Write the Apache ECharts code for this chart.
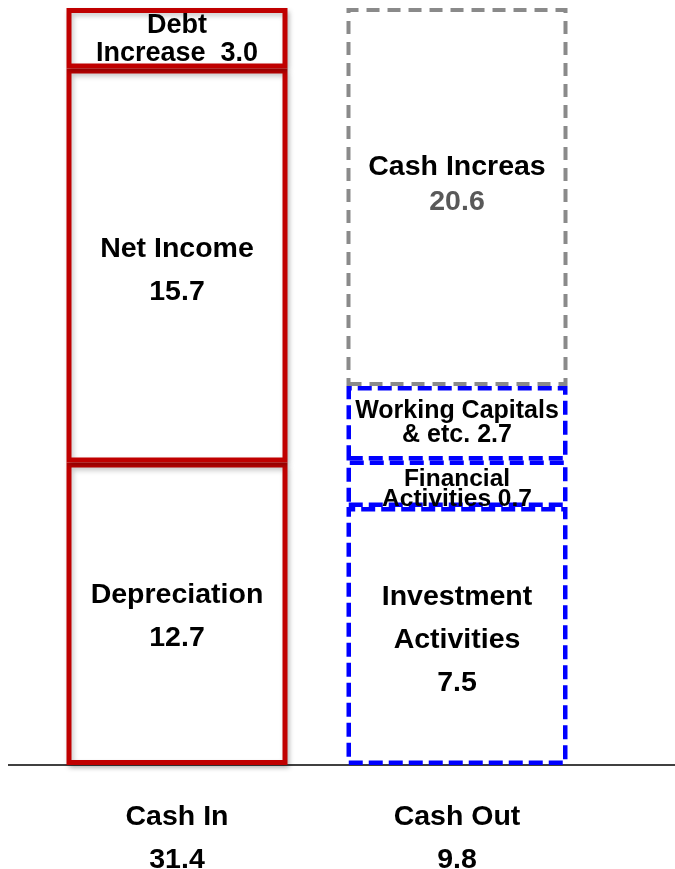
<!DOCTYPE html>
<html>
<head>
<meta charset="utf-8">
<script src="https://cdn.jsdelivr.net/npm/echarts@6/dist/echarts.min.js"></script>
<style>
  html, body { margin: 0; padding: 0; background: #fff; }
  #chart { width: 675px; height: 869px; }
</style>
</head>
<body>
<div id="chart"></div>
<script>
// categories and the totals printed under them
const categories = ["Cash In", "Cash Out"]
const categoryTotals = ["31.4", "9.8"]

// cash in blocks (bottom to top)
const cashInNames = ["Depreciation", "Net Income", "Debt\nIncrease "]
const cashInValues = ["12.7", "15.7", "3.0"]          // printed numbers
const cashInHeights = [12.55, 16.34, 2.51]             // heights as drawn

// cash out blocks (bottom to top)
const cashOutNames = ["Investment\nActivities", "Financial\nActivities", "Working Capitals\n& etc.", "Cash Increas"]
const cashOutValues = ["7.5", "0.7", "2.7", "20.6"]
const cashOutHeights = [10.7, 1.93, 3.09, 15.68]

const chart = echarts.init(document.getElementById("chart"))

const FONT = "Liberation Sans"
const RED = "#c00000"
const BLUE = "#0000ff"
const GRAY = "#8a8a8a"

// label text styles
const base = { fontFamily: FONT, fontWeight: "bold", color: "#000" }
const rich = {
  n: { ...base, fontSize: 28.5, lineHeight: 43 },
  d: { ...base, fontSize: 27, lineHeight: 28 },
  w: { ...base, fontSize: 25, lineHeight: 24 },
  f: { ...base, fontSize: 24.5, lineHeight: 20 },
  c: { ...base, fontSize: 28.5, lineHeight: 35 },
  g: { ...base, fontSize: 28.5, lineHeight: 35, color: "#595959" },
}

// build rich label: big labels put the number on its own line
const bigLabel = (name, value, s) =>
  name.split("\n").map((l) => `{${s}|${l}}`).join("\n") + `\n{${s}|${value}}`
const smallLabel = (name, value, s) => {
  const lines = name.split("\n")
  lines[lines.length - 1] = lines[lines.length - 1] + " " + value
  return lines.map((l) => `{${s}|${l}}`).join("\n")
}

const inLabels = [
  bigLabel(cashInNames[0], cashInValues[0], "n"),
  bigLabel(cashInNames[1], cashInValues[1], "n"),
  smallLabel(cashInNames[2], cashInValues[2], "d"),
]
const outLabels = [
  bigLabel(cashOutNames[0], cashOutValues[0], "n"),
  smallLabel(cashOutNames[1], cashOutValues[1], "f"),
  smallLabel(cashOutNames[2], cashOutValues[2], "w"),
  `{c|${cashOutNames[3]}}\n{g|${cashOutValues[3]}}`,
]
const inOffsets = [[0, 3], [0, 5], [0, 1]]
const outOffsets = [[0, 4], [0, 5], [0, 0], [0, -12]]

const series = []

cashInHeights.forEach((h, i) => {
  series.push({
    type: "bar",
    stack: "cash",
    barWidth: 221,
    z: 3,
    data: [h, "-"],
    itemStyle: {
      color: "#fff",
      borderColor: RED,
      borderWidth: 5,
      shadowBlur: 5,
      shadowColor: "rgba(0,0,0,0.22)",
      shadowOffsetX: 2,
      shadowOffsetY: 3,
    },
    label: {
      show: true,
      position: "inside",
      fontFamily: FONT,
      offset: inOffsets[i],
      formatter: inLabels[i],
      rich: rich,
    },
  })
})

cashOutHeights.forEach((h, i) => {
  const isCash = i === cashOutHeights.length - 1
  series.push({
    type: "bar",
    stack: "cash",
    barWidth: 221,
    z: isCash ? 2 : 3,
    data: ["-", h],
    itemStyle: {
      color: "transparent",
      borderColor: isCash ? GRAY : BLUE,
      borderWidth: isCash ? 4 : 4.5,
      borderType: isCash ? [13, 8] : [14, 6],
    },
    label: {
      show: true,
      position: "inside",
      fontFamily: FONT,
      offset: outOffsets[i],
      formatter: outLabels[i],
      rich: rich,
    },
  })
})

const option = {
  animation: false,
  backgroundColor: "#fff",
  textStyle: { fontFamily: FONT },
  grid: { left: 37, right: 78, top: 8, bottom: 104, containLabel: false, outerBoundsMode: "none" },
  xAxis: {
    type: "category",
    data: categories,
    axisLine: { show: false },
    axisTick: { show: false },
    axisLabel: {
      margin: 31,
      fontFamily: FONT,
      formatter: (v, i) => `{n|${v}}\n{n|${categoryTotals[i]}}`,
      rich: rich,
    },
  },
  yAxis: {
    type: "value",
    min: 0,
    max: 31.4,
    show: false,
    splitLine: { show: false },
  },
  series: series,
}

chart.setOption(option)

// baseline runs across the whole width
const y0 = chart.convertToPixel({ yAxisIndex: 0 }, 0)
chart.setOption({
  graphic: [{
    type: "line",
    z: 0,
    shape: { x1: 8, y1: y0, x2: 675, y2: y0 },
    style: { stroke: "#000", lineWidth: 1.5 },
  }],
})
</script>
</body>
</html>
